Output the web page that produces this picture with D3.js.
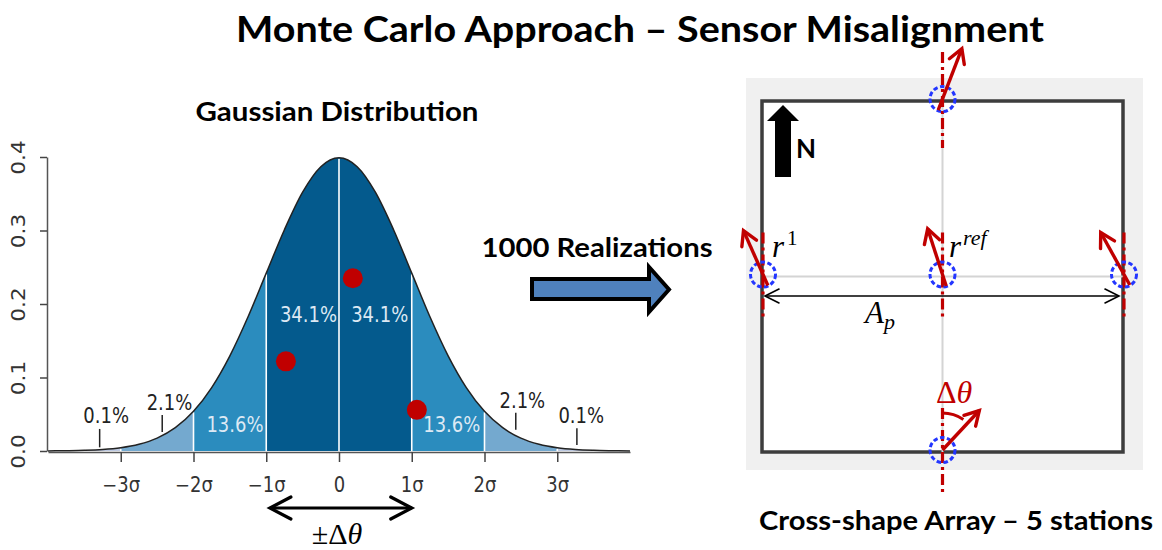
<!DOCTYPE html>
<html>
<head>
<meta charset="utf-8">
<script src="https://cdn.jsdelivr.net/npm/d3@7"></script>
<style>
	body { margin: 0; background: #fff; }
	svg { display: block; }
	.heading { font-family: Lato, 'Open Sans', sans-serif; font-weight: bold; fill: #000; }
	.plain { font-family: 'DejaVu Sans', sans-serif; font-size: 18px; }
	.math { font-family: 'Liberation Serif', 'DejaVu Serif', serif; }
</style>
</head>
<body>
<div id="chart"></div>
<script>

// gaussian curve (density per sigma step)
var curve_sigma = [-4, -3.75, -3.5, -3.25, -3, -2.75, -2.5, -2.25, -2, -1.75, -1.5, -1.25, -1, -0.75, -0.5, -0.25, 0,
	0.25, 0.5, 0.75, 1, 1.25, 1.5, 1.75, 2, 2.25, 2.5, 2.75, 3, 3.25, 3.5, 3.75, 4]
var curve_density = [0.0001, 0.0004, 0.0009, 0.0020, 0.0044, 0.0091, 0.0175, 0.0317, 0.0540, 0.0863, 0.1295, 0.1826, 0.2420, 0.3011, 0.3521, 0.3867, 0.3989,
	0.3867, 0.3521, 0.3011, 0.2420, 0.1826, 0.1295, 0.0863, 0.0540, 0.0317, 0.0175, 0.0091, 0.0044, 0.0020, 0.0009, 0.0004, 0.0001]

var sigma_ticks = [-3, -2, -1, 0, 1, 2, 3]
var sigma_labels = ['\u22123\u03c3', '\u22122\u03c3', '\u22121\u03c3', '0', '1\u03c3', '2\u03c3', '3\u03c3']
var density_ticks = [0, 0.1, 0.2, 0.3, 0.4]

var band_edges = [-4, -3, -2, -1, 0, 1, 2, 3, 4]
var band_shade = [3, 2, 1, 0, 0, 1, 2, 3]
var band_percent = ['0.1%', '2.1%', '13.6%', '34.1%', '34.1%', '13.6%', '2.1%', '0.1%']
var percent_sigma = [-3.2, -2.33, -1.43, -0.42, 0.56, 1.55, 2.52, 3.33]
var percent_density = [0.038, 0.056, 0.026, 0.176, 0.176, 0.026, 0.058, 0.038]

var pointer_sigma = [-3.29, -2.43, 2.43, 3.27]
var pointer_low = [0.005, 0.026, 0.029, 0.008]
var pointer_high = [0.030, 0.049, 0.052, 0.031]

// three sampled misalignments
var sample_sigma = [-0.73, 0.19, 1.07]
var sample_density = [0.122, 0.235, 0.056]

// cross-shape array: station grid position and tilt from north (degrees)
var station_names = ['north', 'r1', 'ref', 'east', 'south']
var station_col = [0, -1, 0, 1, 0]
var station_row = [1, 0, 0, 0, -1]
var station_tilt = [21, -24, -18, -29, 43]

var shades = ['#045a8d', '#2b8cbe', '#74a9cf', '#bdc9e1']
var red = '#c00000'

var width = 1162,
	height = 550

var svg = d3.select('#chart')
	.append('svg')
	.attr('width', width)
	.attr('height', height)

svg.append('rect')
	.attr('width', width)
	.attr('height', height)
	.attr('fill', '#fff')

var arrow_head = (g, x, y, a, o) => {
	let p = d3.path()
	p.moveTo(x - o.len * Math.cos(a) + o.half * Math.sin(a), y - o.len * Math.sin(a) - o.half * Math.cos(a))
	p.lineTo(x, y)
	p.lineTo(x - o.len * Math.cos(a) - o.half * Math.sin(a), y - o.len * Math.sin(a) + o.half * Math.cos(a))
	g.append('path')
		.attr('d', p)
		.attr('fill', 'none')
		.attr('stroke', o.color)
		.attr('stroke-width', o.width)
		.attr('stroke-linecap', 'round')
		.attr('stroke-linejoin', 'miter')
}

var draw_arrow = (g, x1, y1, x2, y2, o) => {
	let a = Math.atan2(y2 - y1, x2 - x1)
	g.append('line')
		.attr('x1', x1).attr('y1', y1)
		.attr('x2', x2).attr('y2', y2)
		.attr('stroke', o.color)
		.attr('stroke-width', o.width)
	arrow_head(g, x2, y2, a, o)
	if (o.both) arrow_head(g, x1, y1, a + Math.PI, o)
}

// ---------- title ----------

svg.append('text')
	.attr('class', 'heading')
	.attr('x', 640)
	.attr('y', 42)
	.attr('text-anchor', 'middle')
	.attr('font-size', 36)
	.attr('textLength', 808)
	.attr('lengthAdjust', 'spacingAndGlyphs')
	.text('Monte Carlo Approach \u2013 Sensor Misalignment')

// ---------- gaussian ----------

var x = d3.scaleLinear()
	.domain([-4, 4])
	.range([48, 630])

var y = d3.scaleLinear()
	.domain([0, 0.4])
	.range([451, 157])

var curve_points = curve_sigma.map((s, i) => [s, curve_density[i]])

var area = d3.area()
	.x(d => x(d[0]))
	.y0(y(0))
	.y1(d => y(d[1]))
	.curve(d3.curveMonotoneX)

var line = d3.line()
	.x(d => x(d[0]))
	.y(d => y(d[1]))
	.curve(d3.curveMonotoneX)

var gauss = svg.append('g')

var defs = svg.append('defs')

band_shade.forEach((s, i) => {
	defs.append('clipPath')
		.attr('id', 'band' + i)
		.append('rect')
			.attr('x', x(band_edges[i]))
			.attr('y', 0)
			.attr('width', x(band_edges[i + 1]) - x(band_edges[i]))
			.attr('height', height)
	gauss.append('path')
		.datum(curve_points)
		.attr('clip-path', 'url(#band' + i + ')')
		.attr('fill', shades[s])
		.attr('d', area)
})

// white separators between bands
var density_at = s => {
	let i = curve_sigma.indexOf(s)
	return curve_density[i]
}

gauss.selectAll('.sep')
	.data(sigma_ticks)
	.join('line')
		.attr('class', 'sep')
		.attr('x1', d => x(d))
		.attr('x2', d => x(d))
		.attr('y1', y(0))
		.attr('y2', d => y(density_at(d)) + 1)
		.attr('stroke', '#fff')
		.attr('stroke-width', 1.6)

gauss.append('path')
	.datum(curve_points)
	.attr('fill', 'none')
	.attr('stroke', '#222')
	.attr('stroke-width', 1.5)
	.attr('d', line)

// axes
var x_axis = gauss.append('g')
	.attr('transform', 'translate(0,' + (y(0) + 1) + ')')
	.call(d3.axisBottom(x)
		.tickValues(sigma_ticks)
		.tickFormat((d, i) => sigma_labels[i])
		.tickSize(10)
		.tickSizeOuter(0))

x_axis.select('.domain')
	.attr('stroke', '#555')
	.attr('stroke-width', 1.5)

x_axis.selectAll('.tick line')
	.attr('stroke', '#444')
	.attr('stroke-width', 1.5)

x_axis.selectAll('.tick text')
	.attr('class', 'plain')
	.attr('font-family', null)
	.attr('font-size', null)
	.attr('fill', '#333')
	.attr('y', 0)
	.attr('dy', null)
	.attr('transform', 'translate(0,40) scale(1,1.15)')

var y_axis = gauss.append('g')
	.attr('transform', 'translate(' + 47 + ',0)')
	.call(d3.axisLeft(y)
		.tickValues(density_ticks)
		.tickFormat(d3.format('.1f'))
		.tickSize(7)
		.tickSizeOuter(0))

y_axis.select('.domain')
	.attr('stroke', '#555')
	.attr('stroke-width', 1.5)

y_axis.selectAll('.tick line')
	.attr('stroke', '#444')
	.attr('stroke-width', 1.5)

y_axis.selectAll('.tick text')
	.attr('class', 'plain')
	.attr('font-family', null)
	.attr('font-size', null)
	.attr('fill', '#333')
	.attr('x', 0)
	.attr('dy', null)
	.attr('text-anchor', 'middle')
	.attr('transform', 'translate(-22,0) scale(1.05,1.2) rotate(-90)')

// percentages
gauss.selectAll('.pct')
	.data(band_percent)
	.join('text')
		.attr('class', 'pct plain')
		.attr('text-anchor', 'middle')
		.attr('fill', (d, i) => band_shade[i] <= 1 ? '#dde9f4' : '#222')
		.attr('transform', (d, i) => 'translate(' + x(percent_sigma[i]) + ',' + y(percent_density[i]) + ') scale(1,1.15)')
		.text(d => d)

gauss.selectAll('.pointer')
	.data(pointer_sigma)
	.join('line')
		.attr('class', 'pointer')
		.attr('x1', d => x(d))
		.attr('x2', d => x(d))
		.attr('y1', (d, i) => y(pointer_low[i]))
		.attr('y2', (d, i) => y(pointer_high[i]))
		.attr('stroke', '#222')
		.attr('stroke-width', 1.5)

gauss.selectAll('.sample')
	.data(sample_sigma)
	.join('circle')
		.attr('class', 'sample')
		.attr('cx', d => x(d))
		.attr('cy', (d, i) => y(sample_density[i]))
		.attr('r', 10)
		.attr('fill', red)

svg.append('text')
	.attr('class', 'heading')
	.attr('x', 337)
	.attr('y', 121)
	.attr('text-anchor', 'middle')
	.attr('font-size', 26)
	.attr('textLength', 283)
	.attr('lengthAdjust', 'spacingAndGlyphs')
	.text('Gaussian Distribution')

draw_arrow(svg, x(-0.95), 508, x(1), 508, {color: '#000', width: 3.2, len: 21, half: 11, both: true})

var pm = svg.append('text')
	.attr('class', 'math')
	.attr('x', 337)
	.attr('y', 544)
	.attr('text-anchor', 'middle')
	.attr('font-size', 30)
	.attr('fill', '#000')

pm.append('tspan').text('\u00b1\u0394')
pm.append('tspan').attr('font-style', 'italic').text('\u03b8')

// ---------- realizations arrow ----------

svg.append('text')
	.attr('class', 'heading')
	.attr('x', 597)
	.attr('y', 257)
	.attr('text-anchor', 'middle')
	.attr('font-size', 26)
	.attr('textLength', 231)
	.attr('lengthAdjust', 'spacingAndGlyphs')
	.text('1000 Realizations')

var block = d3.path()
block.moveTo(532, 279)
block.lineTo(649, 279)
block.lineTo(649, 267)
block.lineTo(669, 289.5)
block.lineTo(649, 312)
block.lineTo(649, 299)
block.lineTo(532, 299)
block.closePath()

svg.append('path')
	.attr('d', block)
	.attr('fill', '#4f81bd')
	.attr('stroke', '#000')
	.attr('stroke-width', 4)
	.attr('stroke-linejoin', 'miter')

// ---------- cross-shape array ----------

var ax = d3.scaleLinear()
	.domain([-1, 1])
	.range([763, 1124])

var ay = d3.scaleLinear()
	.domain([-1, 1])
	.range([450, 99])

var arr = svg.append('g')

arr.append('rect')
	.attr('x', 746)
	.attr('y', 78)
	.attr('width', 397)
	.attr('height', 392)
	.attr('fill', '#f0f0f0')

arr.append('rect')
	.attr('x', ax(-1) - 1)
	.attr('y', ay(1) + 2)
	.attr('width', ax(1) - ax(-1))
	.attr('height', ay(-1) - ay(1))
	.attr('fill', '#fff')
	.attr('stroke', '#3d3d3d')
	.attr('stroke-width', 3.5)

arr.append('line')
	.attr('x1', ax(0) - 1).attr('x2', ax(0) - 1)
	.attr('y1', ay(1) + 2).attr('y2', ay(-1) + 2)
	.attr('stroke', '#d4d4d4')
	.attr('stroke-width', 2)

arr.append('line')
	.attr('x1', ax(-1)).attr('x2', ax(1))
	.attr('y1', ay(0) + 2).attr('y2', ay(0) + 2)
	.attr('stroke', '#d4d4d4')
	.attr('stroke-width', 2)

// north marker
var north = d3.path()
north.moveTo(775, 177)
north.lineTo(775, 121)
north.lineTo(767, 121)
north.lineTo(783, 105)
north.lineTo(799, 121)
north.lineTo(791, 121)
north.lineTo(791, 177)
north.closePath()

arr.append('path')
	.attr('d', north)
	.attr('fill', '#000')

arr.append('text')
	.attr('class', 'heading')
	.attr('x', 796)
	.attr('y', 158)
	.attr('font-size', 26)
	.text('N')

// aperture
draw_arrow(arr, ax(-1) + 2, 296, ax(1) - 5, 296, {color: '#000', width: 1.6, len: 14, half: 7, both: true})

var stations = station_names.map((n, i) => ({
	name: n,
	x: ax(station_col[i]) - (station_col[i] == 0 ? 1 : 0),
	y: ay(station_row[i]),
	tilt: station_tilt[i] * Math.PI / 180
}))

arr.selectAll('.axis-line')
	.data(stations)
	.join('line')
		.attr('class', 'axis-line')
		.attr('x1', d => d.x)
		.attr('x2', d => d.x)
		.attr('y1', d => d.y - (d.name == 'north' ? 47 : 42))
		.attr('y2', d => d.y + (d.name == 'north' ? 49 : 42))
		.attr('stroke', red)
		.attr('stroke-width', 3.2)
		.attr('stroke-dasharray', '11,4,3,4')

arr.selectAll('.station')
	.data(stations)
	.join('circle')
		.attr('class', 'station')
		.attr('cx', d => d.x)
		.attr('cy', d => d.y)
		.attr('r', 12.5)
		.attr('fill', 'none')
		.attr('stroke', '#2336ff')
		.attr('stroke-width', 3)
		.attr('stroke-dasharray', '4.5,2.5')

stations.forEach(d => {
	let back = d.name == 'south' ? 0 : 12
	let sx = d.x - back * Math.sin(d.tilt),
		sy = d.y + back * Math.cos(d.tilt)
	let len = d.name == 'south' ? 54 : (d.name == 'north' ? 66 : 60)
	draw_arrow(arr, sx, sy, sx + len * Math.sin(d.tilt), sy - len * Math.cos(d.tilt),
		{color: red, width: 3.4, len: 14, half: 8})
})

// misalignment angle at the south station
var south = stations[4]
var arc = d3.path()
arc.arc(south.x, south.y, 37, -Math.PI / 2, -Math.PI / 2 + south.tilt * 0.8, false)

arr.append('path')
	.attr('d', arc)
	.attr('fill', 'none')
	.attr('stroke', red)
	.attr('stroke-width', 3)

var dt = arr.append('text')
	.attr('class', 'math')
	.attr('x', 936)
	.attr('y', 403)
	.attr('font-size', 32)
	.attr('fill', red)

dt.append('tspan').text('\u0394')
dt.append('tspan').attr('font-style', 'italic').text('\u03b8')

var r1 = arr.append('text')
	.attr('class', 'math')
	.attr('x', 772)
	.attr('y', 257)
	.attr('font-size', 31)

r1.append('tspan').attr('font-style', 'italic').text('r')
r1.append('tspan').attr('font-size', 21).attr('dy', -12).attr('dx', 3).text('1')

var rr = arr.append('text')
	.attr('class', 'math')
	.attr('x', 949)
	.attr('y', 257)
	.attr('font-size', 31)

rr.append('tspan').attr('font-style', 'italic').text('r')
rr.append('tspan').attr('font-size', 22).attr('font-style', 'italic').attr('dy', -12).attr('dx', 2).text('ref')

var ap = arr.append('text')
	.attr('class', 'math')
	.attr('x', 865)
	.attr('y', 323)
	.attr('font-size', 31)

ap.append('tspan').attr('font-style', 'italic').text('A')
ap.append('tspan').attr('font-size', 22).attr('font-style', 'italic').attr('dy', 6).text('p')

svg.append('text')
	.attr('class', 'heading')
	.attr('x', 956)
	.attr('y', 530)
	.attr('text-anchor', 'middle')
	.attr('font-size', 27)
	.attr('textLength', 394)
	.attr('lengthAdjust', 'spacingAndGlyphs')
	.text('Cross-shape Array \u2013 5 stations')

</script>
</body>
</html>
